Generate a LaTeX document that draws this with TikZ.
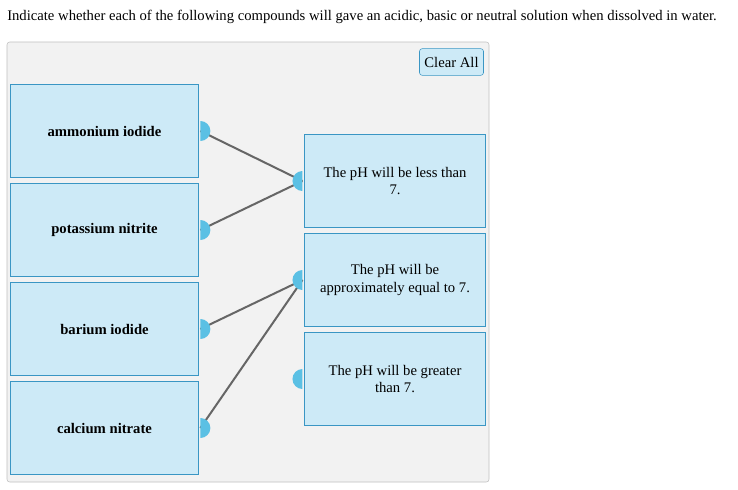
\documentclass[tikz,border=0pt]{standalone}
\usepackage{fontspec}
\setmainfont{Liberation Serif}
\usepackage{tikz}

\definecolor{boxfill}{HTML}{CDEAF7}
\definecolor{boxline}{HTML}{3A96C4}
\definecolor{knob}{HTML}{5BC0E4}
\definecolor{panel}{HTML}{F2F2F2}

\newcommand{\txt}{\fontsize{11}{13}\selectfont}
\tikzset{
  item/.style={draw=boxline, fill=boxfill, line width=0.8pt, minimum width=141pt, minimum height=70pt, inner sep=0pt, font=\txt\bfseries},
  target/.style={draw=boxline, fill=boxfill, line width=0.8pt, minimum width=136pt, minimum height=70pt, inner sep=0pt, font=\txt, align=center},
  link/.style={draw=black!60, line width=1.5pt}
}

\begin{document}
\begin{tikzpicture}[x=0.75pt,y=-0.75pt]
\useasboundingbox (0,0) rectangle (738,489);
  \node[anchor=west, font=\txt, inner sep=0pt] (title) at (7,17) {Indicate whether each of the following compounds will gave an acidic, basic or neutral solution when dissolved in water.};
  \draw[draw=black!25, fill=panel, rounded corners=2pt] (7,42) rectangle (489,482);
  \node[draw=boxline, fill=boxfill, rounded corners=2pt, minimum width=48pt, minimum height=20pt, inner sep=2pt, font=\txt] (clear) at (451.5,62) {Clear All};
  % compounds
  \node[item] (a) at (104.5,131) {ammonium iodide};
  \node[item] (b) at (104.5,230) {potassium nitrite};
  \node[item] (c) at (104.5,329) {barium iodide};
  \node[item] (d) at (104.5,428) {calcium nitrate};
  % answers
  \node[target] (p) at (395,181) {The pH will be less than\\7.};
  \node[target] (q) at (395,280) {The pH will be\\approximately equal to 7.};
  \node[target] (r) at (395,379) {The pH will be greater\\than 7.};
  % handles
  \foreach \n in {a,b,c,d} \coordinate (\n h) at ([xshift=1pt]\n.east);
  \foreach \n in {p,q,r} \coordinate (\n h) at ([xshift=-1pt]\n.west);
  \draw[link] (ah) -- (ph);
  \draw[link] (bh) -- (ph);
  \draw[link] (ch) -- (qh);
  \draw[link] (dh) -- (qh);
  \foreach \n in {a,b,c,d} \fill[knob] ([yshift=7.5pt]\n h) arc (90:-90:7.5pt) -- cycle;
  \foreach \n in {p,q,r} \fill[knob] ([yshift=7.5pt]\n h) arc (90:270:7.5pt) -- cycle;
\end{tikzpicture}
\end{document}
